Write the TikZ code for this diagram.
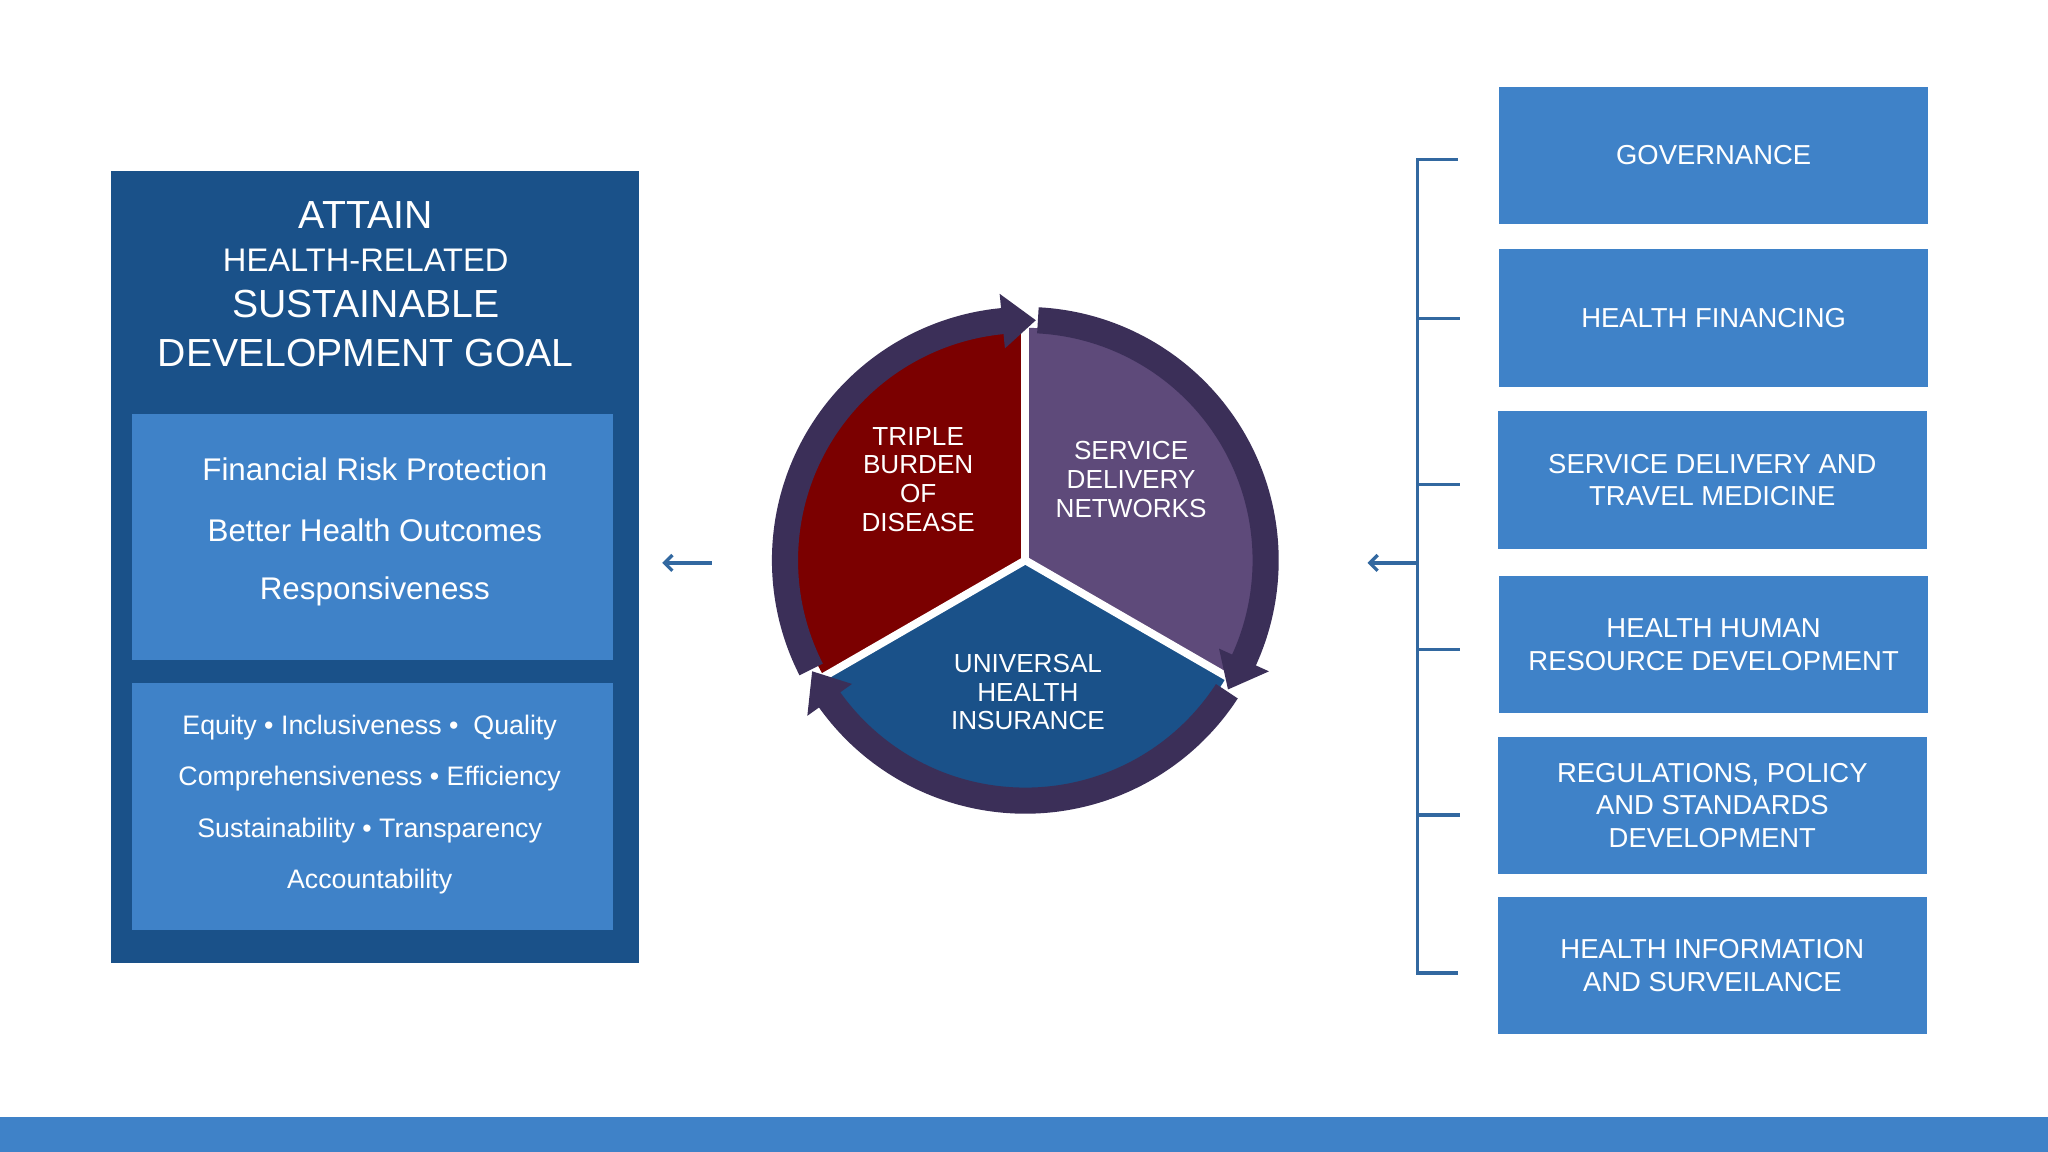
\documentclass[tikz,border=0pt]{standalone}
\usepackage{fontspec}
\setmainfont{Liberation Sans}
\usetikzlibrary{arrows.meta}
\begin{document}
\definecolor{dblue}{HTML}{1A5189}
\definecolor{lblue}{HTML}{3F82C8}
\definecolor{ringc}{HTML}{3B2F58}
\definecolor{redc}{HTML}{7B0000}
\definecolor{purc}{HTML}{5E4A7A}
\begin{tikzpicture}[x=1pt,y=-1pt,
  rbox/.style={fill=lblue,draw=none,minimum width=328pt,minimum height=105pt,text=white,align=center,font=\fontsize{21}{25}\selectfont,inner sep=0pt},
  arr/.style={draw=lblue!80!black,line width=2.5pt,-{Straight Barb[length=6pt,width=12pt]}},
  sect/.style={draw=white,line width=6pt},
  ring/.style={draw=ringc,line width=20pt},
  stxt/.style={text=white,align=center,font=\fontsize{20}{22}\selectfont}]
\useasboundingbox (0,0) rectangle (1568,882);
\fill[white] (0,0) rectangle (1568,882);
\fill[lblue] (0,855) rectangle (1568,882);
% left panel
\node[fill=dblue,minimum width=404pt,minimum height=606pt,inner sep=0pt] (big) at (287,434) {};
\node[fill=lblue,minimum width=368pt,minimum height=188pt,inner sep=0pt] (b1) at (285,411) {};
\node[fill=lblue,minimum width=368pt,minimum height=189pt,inner sep=0pt] (b2) at (285,617.5) {};
\node[text=white,font=\fontsize{30}{34}\selectfont] (t1) at (280,165) {ATTAIN};
\node[text=white,font=\fontsize{25}{28}\selectfont] (t2) at (280,199) {HEALTH-RELATED};
\node[text=white,font=\fontsize{30}{34}\selectfont] (t3) at (280,233) {SUSTAINABLE};
\node[text=white,font=\fontsize{30}{34}\selectfont] (t4) at (280,270) {DEVELOPMENT GOAL};
\foreach \t/\y in {Financial Risk Protection/359,Better Health Outcomes/406,Responsiveness/453}
  \node[text=white,font=\fontsize{24}{28}\selectfont] at (287,\y) {\t};
\foreach \t/\y in {{Equity • Inclusiveness •\ \ Quality}/557,{Comprehensiveness • Efficiency}/596,{Sustainability • Transparency}/636,Accountability/675}
  \node[text=white,font=\fontsize{20.5}{24}\selectfont] at (283,\y) {\t};
% arrows
\coordinate (la) at (545,431); \coordinate (lb) at (507,431);
\draw[arr] (la) -- (lb);
\coordinate (ra) at (1085,431); \coordinate (rb) at (1047,431);
\draw[arr] (ra) -- (rb);
% bracket
\draw[draw=lblue!80!black,line width=2.5pt] (1116,122) -- (1085,122) -- (1085,745) -- (1116,745);
\foreach \y in {244,371,497,624} \draw[draw=lblue!80!black,line width=2.5pt] (1085,\y) -- (1118,\y);
% right boxes
\node[rbox] (g1) at (1312,119) {GOVERNANCE};
\node[rbox] (g2) at (1312,243.5) {HEALTH FINANCING};
\node[rbox] (g3) at (1311,367.5) {SERVICE DELIVERY AND\\TRAVEL MEDICINE};
\node[rbox] (g4) at (1312,493.5) {HEALTH HUMAN\\RESOURCE DEVELOPMENT};
\node[rbox] (g5) at (1311,616.5) {REGULATIONS, POLICY\\AND STANDARDS\\DEVELOPMENT};
\node[rbox] (g6) at (1311,739.5) {HEALTH INFORMATION\\AND SURVEILANCE};
% circle
\begin{scope}[shift={(785,429)},yscale=-1]
  \fill[redc] (0,0) -- (90:178) arc (90:210:178) -- cycle;
  \fill[purc] (0,0) -- (-30:178) arc (-30:90:178) -- cycle;
  \fill[dblue] (0,0) -- (210:178) arc (210:330:178) -- cycle;
  \draw[sect] (0,0) -- (90:200);
  \draw[sect] (0,0) -- (210:200);
  \draw[sect] (0,0) -- (-30:200);
  \foreach \k in {90,-30,210} {
    \draw[ring] (\k+117:184) arc (\k+117:\k+5:184);
    \fill[ringc] (\k+5.5:163) -- (\k+5.5:205) -- (\k-2.5:184) -- cycle;
  }
\end{scope}
\node[stxt] (s1) at (703,367) {TRIPLE\\BURDEN\\OF\\DISEASE};
\node[stxt] (s2) at (866,367) {SERVICE\\DELIVERY\\NETWORKS};
\node[stxt] (s3) at (787,530) {UNIVERSAL\\HEALTH\\INSURANCE};
\end{tikzpicture}
\end{document}
